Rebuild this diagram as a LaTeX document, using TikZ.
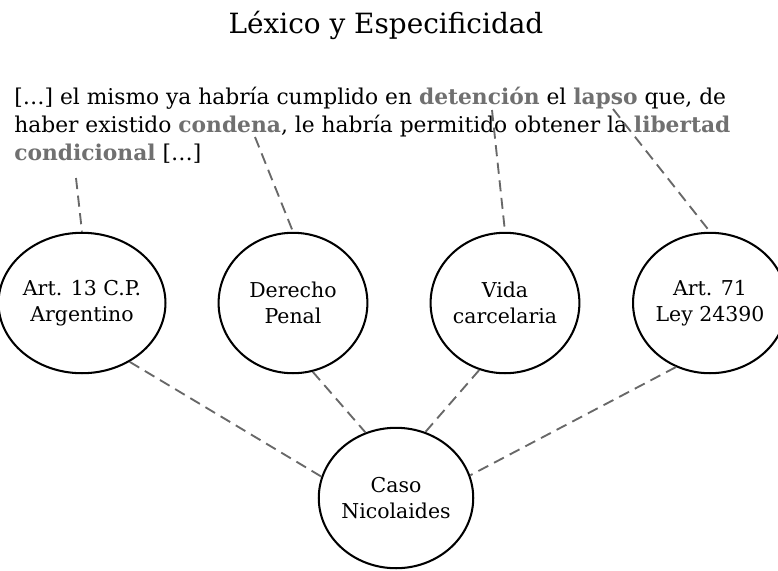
\documentclass[tikz,border=0pt]{standalone}
\usepackage{fontspec}
\setmainfont{DejaVu Serif}
\usetikzlibrary{shapes.geometric}

\definecolor{keygray}{HTML}{707070}
\definecolor{linkgray}{HTML}{686868}
\newcommand{\kw}[1]{\textbf{\color{keygray}#1}}

\tikzset{
  topic/.style={draw, ellipse, line width=1.1pt, inner sep=0pt,
    minimum width=80pt, minimum height=75.5pt, align=center,
    font=\fontsize{11}{14}\selectfont},
  quote/.style={anchor=base west, inner sep=0pt,
    font=\fontsize{11.7}{15}\selectfont},
  link/.style={draw=linkgray, line width=1pt, dash pattern=on 6pt off 3.5pt}
}

\begin{document}
\begin{tikzpicture}[x=0.5376pt, y=-0.5376pt]
\useasboundingbox (0,0) rectangle (778,570);

% title
\node[anchor=base, inner sep=0pt, font=\fontsize{15}{20}\selectfont] (title) at (386,33) {Léxico y Especificidad};

% quoted text
\node[quote] (line1) at (14,104) {[…] el mismo ya habría cumplido en \kw{detención} el \kw{lapso} que, de};
\node[quote] (line2) at (14,132) {haber existido \kw{condena}, le habría permitido obtener la \kw{libertad}};
\node[quote] (line3) at (14,160) {\kw{condicional} […]};

% points under the key words
\coordinate (condicional) at (76,178);
\coordinate (condena) at (255,137);
\coordinate (detencion) at (492,110);
\coordinate (lapso) at (613,109);

% topics
\node[topic] (art13) at (82,303) {Art. 13 C.P.\\Argentino};
\node[topic] (penal) at (293,303) {Derecho\\Penal};
\node[topic] (vida) at (505,303) {Vida\\carcelaria};
\node[topic] (art71) at (710,303) {Art. 71\\Ley 24390};
\node[topic] (caso) at (396,498) {Caso\\Nicolaides};

% words to topics
\draw[link] (condicional) -- (art13.north);
\draw[link] (condena) -- (penal.north);
\draw[link] (detencion) -- (vida.north);
\draw[link] (lapso) -- (art71.north);

% topics to case
\draw[link] (art13.-51) -- (caso.164);
\draw[link] (penal.-74) -- (caso.115);
\draw[link] (vida.-111) -- (caso.66);
\draw[link] (art71.-118) -- (caso.17);
\end{tikzpicture}
\end{document}
